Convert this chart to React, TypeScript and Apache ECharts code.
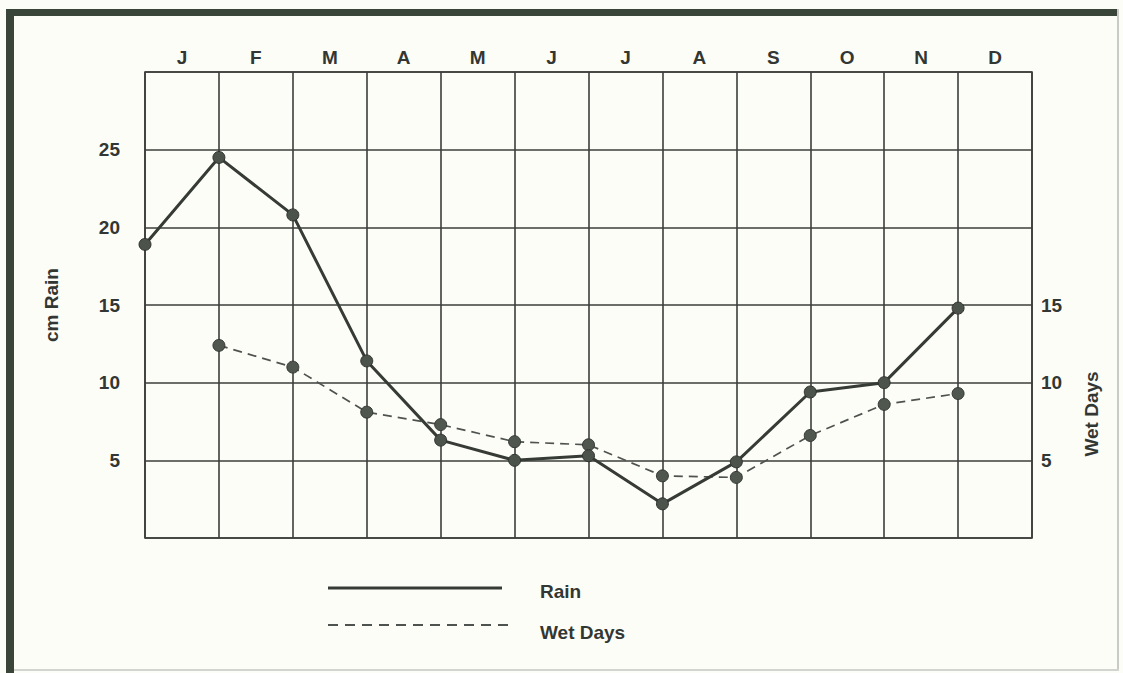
import React, { useEffect, useRef } from "react";
import * as echarts from "echarts";

const months = ["J", "F", "M", "A", "M", "J", "J", "A", "S", "O", "N", "D"];
const rain = [18.9, 24.5, 20.8, 11.4, 6.3, 5.0, 5.3, 2.2, 4.9, 9.4, 10.0, 14.8];
const wetDays: (number | null)[] = [null, 12.4, 11.0, 8.1, 7.3, 6.2, 6.0, 4.0, 3.9, 6.6, 8.6, 9.3];
const rainTicks = [5, 10, 15, 20, 25];
const wetTicks = [5, 10, 15];

const FONT = "'Liberation Sans', Arial, Helvetica, sans-serif";
const INK = "#333733";
const GRIDC = "#3b3e3b";

export default function App() {
  const ref = useRef<HTMLDivElement>(null);

  useEffect(() => {
    document.body.style.margin = "0";
    if (!ref.current) return;
    const chart = echarts.init(ref.current, null, { renderer: "svg" });

    const rainData = rain.map((v, i) => [i, v]);
    const wetData = wetDays
      .map((v, i) => [i, v])
      .filter((p) => p[1] !== null);

    const option: any = {
      animation: false,
      backgroundColor: "#fdfdf8",
      textStyle: { fontFamily: FONT },
      grid: {
        left: 145,
        top: 72,
        width: 887,
        height: 466,
        show: true,
        borderColor: GRIDC,
        borderWidth: 1.6,
        backgroundColor: "transparent",
      },
      xAxis: [
        {
          type: "value",
          min: 0,
          max: 12,
          interval: 1,
          position: "bottom",
          axisLine: { show: false },
          axisTick: { show: false },
          axisLabel: { show: false },
          splitLine: { show: true, lineStyle: { color: GRIDC, width: 1.6 } },
        },
        {
          type: "category",
          data: months,
          boundaryGap: true,
          position: "top",
          axisLine: { show: false },
          axisTick: { show: false },
          splitLine: { show: false },
          axisLabel: {
            color: INK,
            fontWeight: "bold",
            fontSize: 19,
            fontFamily: FONT,
            margin: 5,
          },
        },
      ],
      yAxis: [
        {
          type: "value",
          min: 0,
          max: 30,
          interval: 5,
          position: "left",
          name: "cm Rain",
          nameLocation: "middle",
          nameRotate: 90,
          nameGap: 84,
          nameTextStyle: {
            color: INK,
            fontWeight: "bold",
            fontSize: 19,
            fontFamily: FONT,
          },
          axisLine: { show: false },
          axisTick: { show: false },
          splitLine: { show: true, lineStyle: { color: GRIDC, width: 1.6 } },
          axisLabel: {
            color: INK,
            fontWeight: "bold",
            fontSize: 19,
            fontFamily: FONT,
            margin: 25,
            formatter: (v: number) => (rainTicks.includes(v) ? String(v) : ""),
          },
        },
        {
          type: "value",
          min: 0,
          max: 30,
          interval: 5,
          position: "right",
          axisLine: { show: false },
          axisTick: { show: false },
          splitLine: { show: false },
          axisLabel: {
            color: INK,
            fontWeight: "bold",
            fontSize: 19,
            fontFamily: FONT,
            margin: 9,
            formatter: (v: number) => (wetTicks.includes(v) ? String(v) : ""),
          },
        },
      ],
      series: [
        {
          name: "Rain",
          type: "line",
          xAxisIndex: 0,
          yAxisIndex: 0,
          data: rainData,
          symbol: "circle",
          symbolSize: 12,
          lineStyle: { color: "#363b36", width: 3 },
          itemStyle: { color: "#4b534b", borderColor: "#303430", borderWidth: 1 },
          z: 3,
        },
        {
          name: "Wet Days",
          type: "line",
          xAxisIndex: 0,
          yAxisIndex: 1,
          data: wetData,
          symbol: "circle",
          symbolSize: 12,
          lineStyle: { color: "#4f534f", width: 1.7, type: [9, 6] },
          itemStyle: { color: "#4f574f", borderColor: "#353935", borderWidth: 1 },
          z: 2,
        },
      ],
      graphic: [
        // frame
        { type: "rect", shape: { x: 6, y: 9, width: 8, height: 664 }, style: { fill: "#3a453a" }, silent: true },
        { type: "rect", shape: { x: 6, y: 9, width: 1113, height: 7 }, style: { fill: "#3a453a" }, silent: true },
        { type: "rect", shape: { x: 1117, y: 9, width: 2, height: 662 }, style: { fill: "#c9ccc6" }, silent: true },
        { type: "rect", shape: { x: 14, y: 669, width: 1105, height: 2 }, style: { fill: "#d2d4cf" }, silent: true },
        // right axis title
        {
          type: "text",
          x: 1091,
          y: 414,
          rotation: Math.PI / 2,
          style: {
            text: "Wet Days",
            fill: INK,
            font: `bold 19px ${FONT}`,
            align: "center",
            verticalAlign: "middle",
          },
        },
        // legend
        {
          type: "line",
          shape: { x1: 328, y1: 588, x2: 502, y2: 588 },
          style: { stroke: "#363b36", lineWidth: 3 },
        },
        {
          type: "line",
          shape: { x1: 328, y1: 625, x2: 512, y2: 625 },
          style: { stroke: "#4f534f", lineWidth: 1.8, lineDash: [10, 7] },
        },
        {
          type: "text",
          x: 540,
          y: 591,
          style: { text: "Rain", fill: INK, font: `bold 19px ${FONT}`, verticalAlign: "middle" },
        },
        {
          type: "text",
          x: 540,
          y: 632,
          style: { text: "Wet Days", fill: INK, font: `bold 19px ${FONT}`, verticalAlign: "middle" },
        },
      ],
    };

    chart.setOption(option);
    return () => chart.dispose();
  }, []);

  return <div ref={ref} style={{ width: 1123, height: 673 }} />;
}
